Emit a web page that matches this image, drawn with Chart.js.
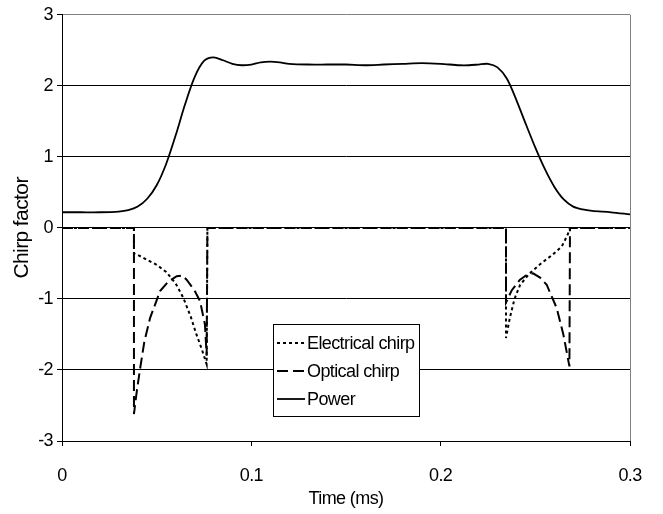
<!DOCTYPE html>
<html>
<head>
<meta charset="utf-8">
<script src="https://cdn.jsdelivr.net/npm/chart.js@4/dist/chart.umd.min.js"></script>
<style>
  html, body { margin: 0; padding: 0; background: #fff; }
  #wrap { width: 663px; height: 514px; }
</style>
</head>
<body>
<div id="wrap"><canvas id="chirpChart" width="663" height="514"></canvas></div>
<script>
// values (time in ms)
const xTickLabels = ["0", "0.1", "0.2", "0.3"];
const yTickLabels = ["-3", "-2", "-1", "0", "1", "2", "3"];

const elecT = [0, 0.038, 0.038, 0.040, 0.045, 0.050, 0.055, 0.060, 0.064, 0.068, 0.071, 0.074, 0.0764, 0.0768,
  0.2345, 0.2345, 0.2365, 0.239, 0.242, 0.247, 0.253, 0.259, 0.264, 0.267, 0.2683, 0.3];
const elecY = [0, 0, -0.36, -0.38, -0.45, -0.52, -0.62, -0.78, -0.98, -1.25, -1.5, -1.72, -1.92, 0,
  0, -1.55, -1.27, -1.0, -0.80, -0.64, -0.50, -0.38, -0.26, -0.10, 0, 0];

const optT = [0, 0.038, 0.038, 0.0395, 0.0412, 0.0435, 0.0465, 0.0518, 0.056, 0.0606, 0.0635, 0.0658, 0.070, 0.0729, 0.0755, 0.0764, 0.0768,
  0.2345, 0.2345, 0.2375, 0.2419, 0.2455, 0.2488, 0.2525, 0.256, 0.2613, 0.2648, 0.268, 0.2683, 0.3];
const optY = [0, 0, -2.62, -2.3, -1.99, -1.6, -1.27, -0.89, -0.76, -0.68, -0.67, -0.73, -0.88, -1.03, -1.36, -1.8, 0,
  0, -1.05, -0.88, -0.73, -0.66, -0.64, -0.70, -0.80, -1.13, -1.5, -1.95, 0, 0];

const powerT = [0, 0.01, 0.02, 0.03, 0.035, 0.04, 0.045, 0.05, 0.055, 0.06, 0.065, 0.07, 0.075, 0.08, 0.085, 0.09, 0.095,
  0.1, 0.105, 0.11, 0.115, 0.12, 0.13, 0.14, 0.15, 0.16, 0.17, 0.18, 0.19, 0.2, 0.21, 0.215, 0.22, 0.225, 0.23,
  0.235, 0.24, 0.245, 0.25, 0.255, 0.26, 0.265, 0.27, 0.275, 0.28, 0.29, 0.3];
const powerY = [0.22, 0.22, 0.22, 0.23, 0.25, 0.30, 0.41, 0.60, 0.90, 1.30, 1.74, 2.12, 2.35, 2.40, 2.36, 2.31, 2.29,
  2.30, 2.33, 2.34, 2.33, 2.31, 2.30, 2.30, 2.30, 2.29, 2.30, 2.31, 2.32, 2.31, 2.29, 2.29, 2.30, 2.31, 2.26,
  2.10, 1.80, 1.46, 1.13, 0.83, 0.58, 0.40, 0.30, 0.26, 0.24, 0.22, 0.19];

const seriesNames = ["Electrical chirp", "Optical chirp", "Power"];

const FONT = "'Liberation Sans', Arial, sans-serif";

function toPoints(xs, ys) {
  return xs.map((x, i) => ({ x: x, y: ys[i] }));
}

// the old figure's text is a bit condensed
const tightText = {
  id: "tightText",
  beforeDraw(chart) {
    if ("letterSpacing" in chart.ctx) chart.ctx.letterSpacing = "-0.6px";
  },
  afterDraw(chart) {
    if ("letterSpacing" in chart.ctx) chart.ctx.letterSpacing = "0px";
  }
};

// legend box drawn inside the plot, like the original
const boxLegend = {
  id: "boxLegend",
  afterDatasetsDraw(chart) {
    const ctx = chart.ctx;
    const left = 273, top = 324, width = 146, height = 92;
    ctx.save();
    ctx.fillStyle = "#fff";
    ctx.fillRect(left, top, width, height);
    ctx.strokeStyle = "#000";
    ctx.lineWidth = 1;
    ctx.strokeRect(left + 0.5, top + 0.5, width, height);
    ctx.font = "18px " + FONT;
    ctx.textBaseline = "middle";
    ctx.fillStyle = "#000";
    if ("letterSpacing" in ctx) ctx.letterSpacing = "-0.6px";
    chart.data.datasets.forEach((ds, i) => {
      const y = top + 19 + i * 28;
      ctx.beginPath();
      ctx.setLineDash(ds.borderDash || []);
      ctx.lineWidth = ds.borderWidth;
      ctx.strokeStyle = ds.borderColor;
      ctx.moveTo(277, y);
      ctx.lineTo(305, y);
      ctx.stroke();
      ctx.setLineDash([]);
      ctx.fillText(ds.label, 307, y + 1);
    });
    ctx.restore();
  }
};

const chart = new Chart(document.getElementById("chirpChart"), {
  type: "line",
  data: {
    datasets: [
      {
        label: seriesNames[0],
        data: toPoints(elecT, elecY),
        borderColor: "#000",
        borderWidth: 2,
        borderDash: [3, 3],
        pointRadius: 0,
        tension: 0,
        fill: false
      },
      {
        label: seriesNames[1],
        data: toPoints(optT, optY),
        borderColor: "#000",
        borderWidth: 2,
        borderDash: [11, 5],
        pointRadius: 0,
        tension: 0,
        fill: false
      },
      {
        label: seriesNames[2],
        data: toPoints(powerT, powerY),
        borderColor: "#000",
        borderWidth: 1.8,
        pointRadius: 0,
        tension: 0.3,
        fill: false
      }
    ]
  },
  options: {
    responsive: false,
    animation: false,
    devicePixelRatio: 1,
    layout: { padding: { left: 0, right: 33, top: 13, bottom: 0 } },
    plugins: {
      legend: { display: false },
      tooltip: { enabled: false }
    },
    scales: {
      x: {
        type: "linear",
        min: 0,
        max: 0.3,
        afterFit: (scale) => { scale.height = 73; },
        ticks: {
          stepSize: 0.1,
          padding: 19,
          color: "#000",
          font: { family: FONT, size: 18 },
          maxRotation: 0,
          callback: (value, index) => xTickLabels[index]
        },
        grid: {
          drawOnChartArea: true,
          tickLength: 5,
          color: (c) => (c.index === 3 ? "#808080" : "rgba(0,0,0,0)"),
          tickColor: "#000"
        },
        border: { color: "#000", width: 1 },
        title: {
          display: true,
          text: "Time (ms)",
          color: "#000",
          font: { family: FONT, size: 18 },
          padding: { top: 0, bottom: 4 }
        }
      },
      y: {
        min: -3,
        max: 3,
        afterFit: (scale) => { scale.width = 62; },
        ticks: {
          stepSize: 1,
          padding: 4,
          color: "#000",
          font: { family: FONT, size: 18 },
          callback: (value, index) => yTickLabels[index]
        },
        grid: {
          tickLength: 5,
          color: (c) => (c.index === 6 ? "#808080" : "#000"),
          tickColor: "#000"
        },
        border: { color: "#000", width: 1 },
        title: {
          display: true,
          text: "Chirp factor",
          color: "#000",
          font: { family: FONT, size: 21 },
          padding: { top: 10, bottom: 0 }
        }
      }
    }
  },
  plugins: [tightText, boxLegend]
});
</script>
</body>
</html>
